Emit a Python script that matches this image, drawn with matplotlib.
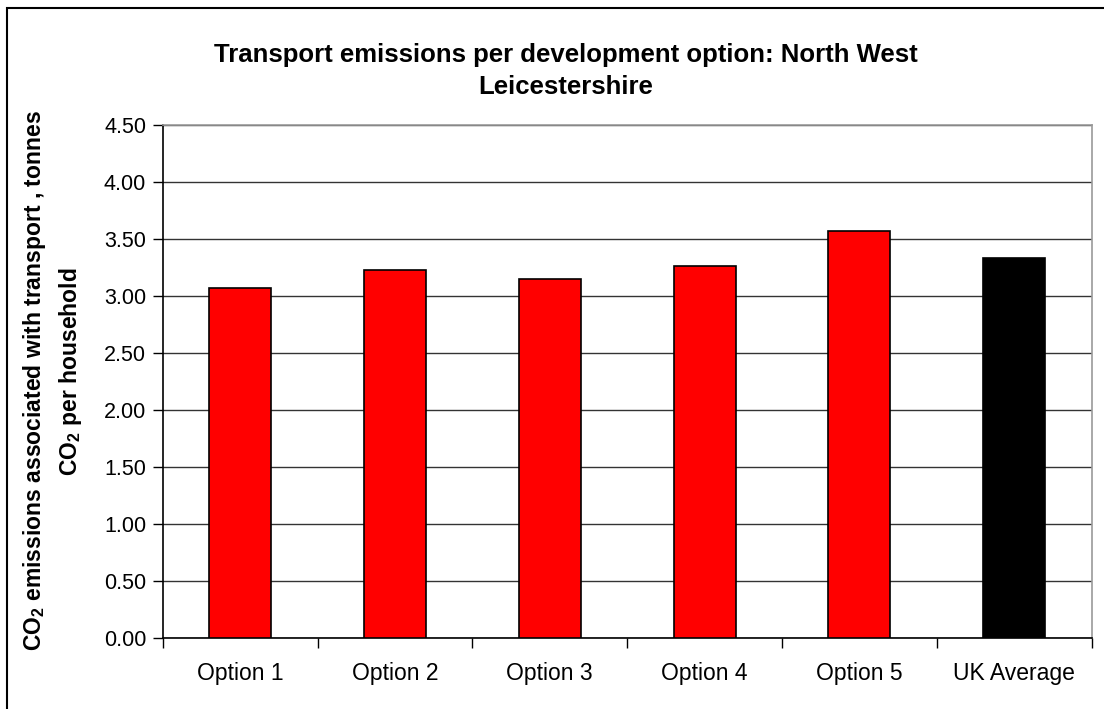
import matplotlib
matplotlib.use("Agg")
import matplotlib.pyplot as plt
from matplotlib.patches import Rectangle

plt.rcParams["font.family"] = ["Liberation Sans", "DejaVu Sans"]
plt.rcParams["mathtext.fontset"] = "custom"
plt.rcParams["mathtext.rm"] = "Liberation Sans"
plt.rcParams["mathtext.bf"] = "Liberation Sans:bold"

categories = ["Option 1", "Option 2", "Option 3", "Option 4", "Option 5", "UK Average"]
emissions = [3.07, 3.23, 3.15, 3.26, 3.57, 3.33]
bar_colors = ["#ff0000", "#ff0000", "#ff0000", "#ff0000", "#ff0000", "#000000"]
yticks = [0.0, 0.5, 1.0, 1.5, 2.0, 2.5, 3.0, 3.5, 4.0, 4.5]

W, H = 1104, 709
fig = plt.figure(figsize=(W / 100, H / 100), dpi=100)
fig.patch.set_facecolor("white")

# chart border (runs off the right and bottom edge)
fig.patches.append(Rectangle((7 / W, -0.05), 1.1, 1 - 8 / H + 0.05,
                             transform=fig.transFigure, fill=False,
                             edgecolor="black", linewidth=1.5))

ax = fig.add_axes([162.7 / W, 1 - 638 / H, (1091.7 - 162.7) / W, (638 - 125) / H])

x = list(range(len(categories)))
ax.bar(x, emissions, width=0.4, color=bar_colors, edgecolor="black",
       linewidth=1.2, zorder=3)

ax.set_xlim(-0.5, len(categories) - 0.5)
ax.set_ylim(0, 4.5)
ax.set_yticks(yticks)
ax.set_yticklabels([f"{v:.2f}" for v in yticks])
ax.yaxis.grid(True, color="#333333", linewidth=1.0, zorder=0)
ax.set_axisbelow(True)

# categories labelled in the middle, ticks on the boundaries
ax.set_xticks(x)
ax.set_xticklabels(categories)
ax.tick_params(axis="x", which="major", length=0, pad=17, labelsize=16.5)
ax.set_xticks([i - 0.5 for i in range(len(categories) + 1)], minor=True)
ax.tick_params(axis="x", which="minor", length=7, width=1, direction="out")
ax.tick_params(axis="y", length=7, width=1, direction="out", pad=5, labelsize=15.5)

ax.spines["left"].set_color("black")
ax.spines["bottom"].set_color("black")
ax.spines["top"].set_color("#9a9a9a")
ax.spines["right"].set_color("#9a9a9a")
for s in ax.spines.values():
    s.set_linewidth(1.2)

fig.text(566 / W, 1 - 71 / H,
         "Transport emissions per development option: North West\nLeicestershire",
         ha="center", va="center", fontsize=18.5, fontweight="bold",
         linespacing=1.4)

fig.text(35 / W, 1 - 381 / H,
         r"CO$_\mathbf{2}$ emissions associated with transport , tonnes",
         rotation=90, ha="center", va="center", fontsize=16.5, fontweight="bold")
fig.text(71 / W, 1 - 372 / H, r"CO$_\mathbf{2}$ per household",
         rotation=90, ha="center", va="center", fontsize=16.5, fontweight="bold")

fig.savefig("out.png", dpi=100)
